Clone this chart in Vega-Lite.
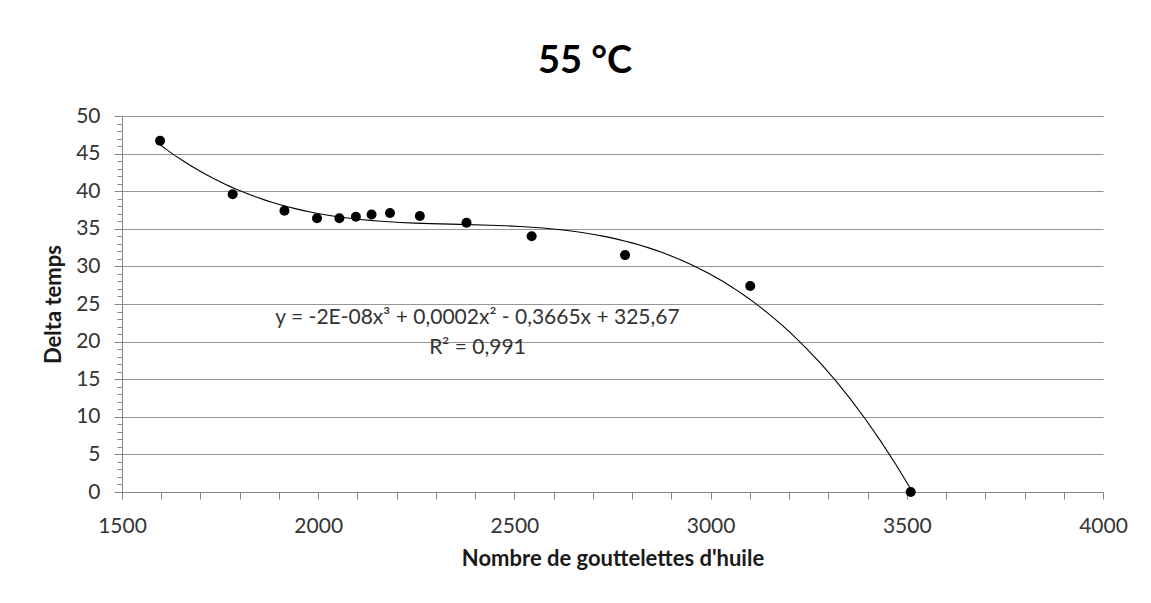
{
  "$schema": "https://vega.github.io/schema/vega-lite/v6.json",
  "autosize": {"type": "none"},
  "width": 981,
  "height": 376,
  "padding": {"left": 122, "top": 116, "right": 48, "bottom": 111},
  "background": "white",
  "config": {"view": {"stroke": null}, "font": "Lato"},
  "title": {"text": "55 °C", "fontSize": 38, "font": "Lato", "fontWeight": "bold", "color": "#000000", "anchor": "middle", "frame": "bounds", "baseline": "alphabetic", "offset": -6},
  "data": {"values": [
    {"n": 1597, "delta": 46.7},
    {"n": 1782, "delta": 39.6},
    {"n": 1914, "delta": 37.4},
    {"n": 1997, "delta": 36.4},
    {"n": 2054, "delta": 36.4},
    {"n": 2096, "delta": 36.6},
    {"n": 2136, "delta": 36.9},
    {"n": 2183, "delta": 37.1},
    {"n": 2259, "delta": 36.7},
    {"n": 2378, "delta": 35.8},
    {"n": 2544, "delta": 34.0},
    {"n": 2782, "delta": 31.5},
    {"n": 3101, "delta": 27.4},
    {"n": 3510, "delta": 0}
  ]},
  "encoding": {
    "x": {"field": "n", "type": "quantitative", "scale": {"domain": [1500, 4000], "nice": false, "zero": false},
      "axis": {"values": [1500,1600,1700,1800,1900,2000,2100,2200,2300,2400,2500,2600,2700,2800,2900,3000,3100,3200,3300,3400,3500,3600,3700,3800,3900,4000],
        "labelExpr": "datum.value % 500 === 0 ? '' + datum.value : ''", "labelOverlap": false, "labelFlush": false, "labelBound": false,
        "labelFont": "Lato", "labelFontSize": 21, "labelColor": "#333333", "labelPadding": 16,
        "tickSize": 7, "tickColor": "#888888", "domainColor": "#888888", "grid": false,
        "title": "Nombre de gouttelettes d'huile", "titleFont": "Lato", "titleFontSize": 22, "titleFontWeight": "bold", "titleColor": "#1a1a1a", "titlePadding": 12}},
    "y": {"field": "delta", "type": "quantitative", "scale": {"domain": [0, 50], "nice": false},
      "axis": {"values": [0,1,2,3,4,5,6,7,8,9,10,11,12,13,14,15,16,17,18,19,20,21,22,23,24,25,26,27,28,29,30,31,32,33,34,35,36,37,38,39,40,41,42,43,44,45,46,47,48,49,50],
        "labelExpr": "datum.value % 5 === 0 ? '' + datum.value : ''", "labelOverlap": false, "labelBound": false, "labelFlush": false,
        "labelFont": "Lato", "labelFontSize": 21, "labelColor": "#333333", "labelPadding": 14,
        "tickSize": {"condition": {"test": "datum.value % 5 === 0", "value": 8}, "value": 5},
        "tickColor": "#888888", "domainColor": "#888888",
        "grid": true, "gridColor": "#969696",
        "gridOpacity": {"condition": {"test": "datum.value % 5 === 0", "value": 1}, "value": 0},
        "title": "Delta temps", "titleFont": "Lato", "titleFontSize": 22, "titleFontWeight": "bold", "titleColor": "#1a1a1a", "titlePadding": 10}}
  },
  "layer": [
    {"transform": [{"regression": "delta", "on": "n", "method": "poly", "order": 3}],
     "mark": {"type": "line", "color": "#000000", "strokeWidth": 1.1}},
    {"mark": {"type": "circle", "size": 100, "color": "#000000", "opacity": 1}},
    {"data": {"values": [
        {"n": 2406, "delta": 23.2, "label": "y = -2E-08x³ + 0,0002x² - 0,3665x + 325,67"},
        {"n": 2406, "delta": 19.1, "label": "R² = 0,991"}
     ]},
     "mark": {"type": "text", "font": "Lato", "fontSize": 21, "color": "#333333", "align": "center", "baseline": "middle"},
     "encoding": {"text": {"field": "label", "type": "nominal"}}}
  ]
}
